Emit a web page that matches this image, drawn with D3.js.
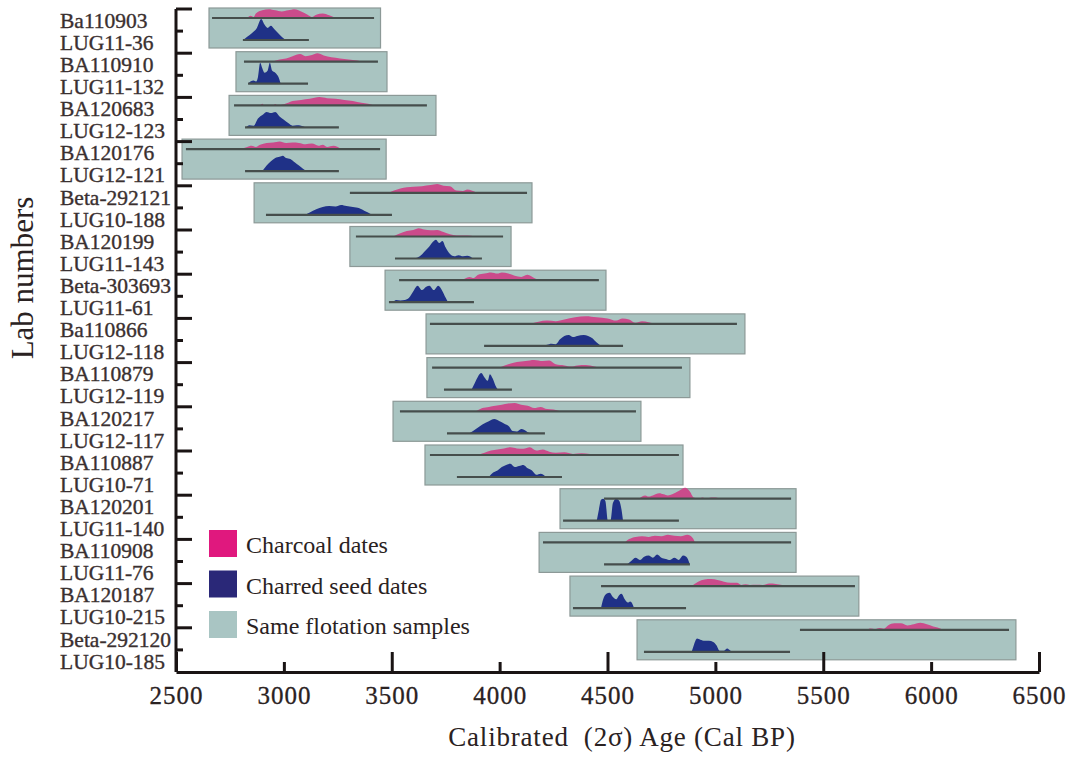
<!DOCTYPE html>
<html>
<head>
<meta charset="utf-8">
<script src="https://cdn.jsdelivr.net/npm/d3@7"></script>
<style>
  body { margin: 0; background: #fff; }
  text { font-family: "Liberation Serif", "Times New Roman", serif; }
</style>
</head>
<body>
<svg width="1072" height="758"></svg>
<script>
// lab numbers, top to bottom (charcoal date, then charred seed date of the same flotation sample)
const labNumbers = ['Ba110903', 'LUG11-36', 'BA110910', 'LUG11-132', 'BA120683', 'LUG12-123',
  'BA120176', 'LUG12-121', 'Beta-292121', 'LUG10-188', 'BA120199', 'LUG11-143',
  'Beta-303693', 'LUG11-61', 'Ba110866', 'LUG12-118', 'BA110879', 'LUG12-119',
  'BA120217', 'LUG12-117', 'BA110887', 'LUG10-71', 'BA120201', 'LUG11-140',
  'BA110908', 'LUG11-76', 'BA120187', 'LUG10-215', 'Beta-292120', 'LUG10-185'];

// extent of each flotation sample box (cal BP)
const sampleBoxes = [[2653, 3448], [2778, 3478], [2746, 3705], [2528, 3474], [2862, 4150],
  [3306, 4053], [3469, 4493], [3659, 5137], [3663, 4882], [3506, 4655],
  [3654, 4850], [4280, 5374], [4183, 5374], [4326, 5665], [4637, 6393]];

// 2 sigma ranges
const charcoalRanges = [[2667, 3418], [2815, 3436], [2769, 3663], [2546, 3446], [3306, 4127],
  [3334, 4016], [3534, 4460], [3677, 5100], [3687, 4845], [3538, 4632],
  [3677, 4831], [4484, 5351], [4201, 5351], [4470, 5647], [5392, 6361]];
const seedRanges = [[2810, 3116], [2834, 3112], [2820, 3255], [2820, 3255], [2917, 3501],
  [3515, 3918], [3487, 3881], [3928, 4572], [3742, 4057], [3756, 4210],
  [3802, 4289], [4294, 4831], [4484, 4882], [4340, 4864], [4669, 5346]];

// probability distributions [cal BP, relative probability]
const charcoalProb = [
  [[2830,0],[2845,.1],[2860,.05],[2870,.2],[2900,.35],[2930,.4],[2960,.35],[2990,.3],[3020,.35],[3050,.4],[3080,.3],[3110,.15],[3130,.05],[3150,.15],[3180,.2],[3210,.12],[3240,0]],
  [[2945,0],[2980,.1],[3010,.15],[3040,.25],[3075,.35],[3100,.25],[3130,.3],[3155,.38],[3185,.28],[3220,.2],[3260,.15],[3300,.1],[3340,.05],[3362,0]],
  [[2890,0],[2900,.08],[2910,0],[2950,0],[2960,.06],[2970,0],[3000,.05],[3040,.2],[3080,.25],[3120,.3],[3165,.38],[3200,.33],[3240,.3],[3280,.25],[3320,.2],[3360,.12],[3390,.08],[3418,0]],
  [[2800,0],[2830,.1],[2850,.15],[2870,.1],[2890,.2],[2920,.28],[2950,.3],[2980,.35],[3010,.28],[3040,.3],[3070,.28],[3100,.22],[3130,.25],[3160,.15],[3180,.2],[3200,.1],[3230,.15],[3265,0]],
  [[3487,0],[3510,.1],[3540,.2],[3570,.25],[3600,.28],[3640,.3],[3680,.35],[3710,.4],[3740,.32],[3770,.3],[3800,.1],[3830,.08],[3850,.15],[3870,.1],[3895,0]],
  [[3506,0],[3540,.15],[3570,.25],[3600,.3],[3625,.38],[3650,.32],[3680,.28],[3710,.3],[3740,.2],[3770,.1],[3800,.05],[3850,.05],[3886,0]],
  [[3780,0],[3800,.06],[3820,0],[3840,.08],[3860,.15],[3880,.1],[3900,.25],[3930,.3],[3960,.35],[3990,.3],[4010,.35],[4040,.3],[4070,.2],[4100,.15],[4130,.25],[4160,.1],[4185,0]],
  [[4140,0],[4180,.1],[4220,.15],[4260,.12],[4300,.2],[4350,.3],[4400,.35],[4450,.3],[4500,.25],[4540,.15],[4570,.25],[4600,.2],[4630,.05],[4660,.12],[4690,.08],[4720,0]],
  [[4000,0],[4040,.15],[4080,.25],[4120,.3],[4160,.35],[4200,.3],[4230,.32],[4260,.15],[4300,.1],[4330,.05],[4360,.1],[4400,.12],[4440,.05],[4460,0]],
  [[3890,0],[3920,.15],[3950,.2],[3980,.25],[4010,.3],[4040,.35],[4070,.38],[4100,.3],[4130,.25],[4160,.15],[4190,.2],[4220,.1],[4250,.08],[4280,0]],
  [[3900,0],[3930,.1],[3960,.2],[3990,.25],[4020,.3],[4050,.35],[4080,.3],[4110,.28],[4140,.35],[4170,.2],[4200,.25],[4230,.15],[4260,.1],[4300,.12],[4340,.05],[4380,.08],[4420,.05],[4447,0]],
  [[4646,0],[4660,.1],[4675,.15],[4690,.1],[4710,.15],[4740,.25],[4760,.2],[4780,.15],[4800,.2],[4830,.35],[4860,.5],[4880,.35],[4900,.05],[4920,0],[4940,.06],[4960,0],[4980,.05],[5000,.05],[5017,0]],
  [[4580,0],[4600,.15],[4630,.25],[4660,.28],[4690,.25],[4720,.3],[4750,.28],[4780,.35],[4810,.3],[4840,.28],[4870,.35],[4895,.2],[4905,0]],
  [[4890,0],[4920,.2],[4950,.3],[4980,.32],[5010,.28],[5040,.2],[5070,.15],[5100,.15],[5120,.05],[5140,.08],[5160,.05],[5190,.06],[5220,.05],[5250,.12],[5280,.1],[5310,.05],[5327,0]],
  [[5700,0],[5720,.06],[5740,.03],[5760,.08],[5780,.05],[5800,.2],[5830,.3],[5860,.3],[5890,.2],[5920,.25],[5950,.32],[5980,.25],[6010,.15],[6030,.1],[6055,0]]
];
const seedProb = [
  [[2810,0],[2830,.15],[2850,.3],[2875,.55],[2895,.95],[2910,.7],[2925,.55],[2940,.65],[2955,.5],[2975,.3],[2995,.1],[3010,0]],
  [[2834,0],[2845,.1],[2860,.15],[2872,.1],[2880,.3],[2890,.95],[2900,.7],[2910,.5],[2925,.6],[2935,.95],[2945,.6],[2960,.5],[2975,.3],[2985,0]],
  [[2824,0],[2840,.1],[2860,.08],[2880,.4],[2905,.6],[2920,.7],[2940,.65],[2960,.7],[2980,.5],[3000,.35],[3020,.2],[3040,.08],[3060,.1],[3080,.08],[3103,0]],
  [[2900,0],[2920,.25],[2940,.45],[2960,.6],[2980,.65],[2995,.7],[3010,.6],[3030,.55],[3050,.4],[3070,.25],[3090,.1],[3105,0]],
  [[3100,0],[3120,.1],[3150,.25],[3180,.35],[3210,.4],[3240,.38],[3265,.45],[3290,.4],[3320,.35],[3350,.3],[3380,.15],[3400,.05],[3410,0]],
  [[3605,0],[3630,.1],[3650,.3],[3670,.5],[3690,.75],[3705,.85],[3720,.7],[3735,.8],[3750,.5],[3770,.2],[3790,.1],[3810,.15],[3830,.1],[3850,.12],[3877,0]],
  [[3506,0],[3520,.1],[3540,.08],[3560,.1],[3580,.2],[3600,.5],[3620,.75],[3640,.55],[3660,.7],[3675,.75],[3695,.55],[3715,.75],[3735,.5],[3750,.2],[3761,0]],
  [[4200,0],[4220,.05],[4240,.1],[4260,.08],[4280,.3],[4300,.45],[4320,.5],[4340,.4],[4360,.45],[4390,.5],[4410,.45],[4430,.35],[4450,.15],[4470,0]],
  [[3870,0],[3885,.3],[3900,.6],[3915,.75],[3930,.55],[3945,.4],[3955,.7],[3968,.5],[3980,.2],[3992,0]],
  [[3860,0],[3890,.2],[3920,.4],[3950,.55],[3975,.65],[4000,.55],[4020,.45],[4045,.3],[4060,.1],[4080,.08],[4100,.2],[4115,.15],[4130,.05],[4141,0]],
  [[3950,0],[3970,.2],[3990,.3],[4010,.45],[4030,.55],[4050,.6],[4070,.45],[4090,.5],[4110,.55],[4130,.4],[4150,.3],[4170,.1],[4190,.15],[4215,0]],
  [[4450,0],[4460,.5],[4470,.95],[4480,1],[4490,.9],[4502,0],[4514,0],[4525,.8],[4540,1],[4555,.9],[4565,.5],[4572,0]],
  [[4590,0],[4610,.15],[4630,.3],[4650,.2],[4670,.35],[4690,.4],[4710,.3],[4730,.45],[4750,.3],[4770,.25],[4790,.2],[4810,.3],[4830,.2],[4850,.4],[4865,.35],[4882,0]],
  [[4470,0],[4480,.4],[4495,.65],[4510,.7],[4525,.5],[4540,.4],[4555,.6],[4565,.65],[4580,.4],[4595,.25],[4605,.3],[4615,.2],[4623,0]],
  [[4890,0],[4900,.3],[4915,.6],[4930,.55],[4950,.5],[4970,.5],[4990,.45],[5005,.3],[5020,.05],[5040,.05],[5055,.15],[5070,.05],[5085,0]]
];

const xTicks = [2500, 3000, 3500, 4000, 4500, 5000, 5500, 6000, 6500];
const legendItems = ['Charcoal dates', 'Charred seed dates', 'Same flotation samples'];

const charcoalCol = '#cb4b8b', seedCol = '#1f3187', boxCol = '#a9c4c1', lineCol = '#464e4c';

var svg = d3.select('svg');

var x = d3.scaleLinear().domain([2500, 6500]).range([176, 1039]);
var y = d3.scaleBand().domain(labNumbers).range([9, 672]);
// the sample boxes sit on a slightly tighter spacing than the labels
var pairIds = labNumbers.filter((d, i) => i % 2 === 0);
var yBox = d3.scaleBand().domain(pairIds).range([8, 663.5]);
var h = d3.scaleLinear().domain([0, 1]).range([0, 22]);

// one group per flotation sample
var pairs = sampleBoxes.map(function(b, i){
    return {box: b, cr: charcoalRanges[i], sr: seedRanges[i], cp: charcoalProb[i], sp: seedProb[i],
            top: yBox(pairIds[i])};
});

var g = svg.append('g');

g.selectAll('.sample')
    .data(pairs)
    .enter().append('rect')
    .attr('class', 'sample')
    .attr('x', d => x(d.box[0]))
    .attr('width', d => x(d.box[1]) - x(d.box[0]))
    .attr('y', d => d.top)
    .attr('height', 40)
    .attr('fill', boxCol)
    .attr('stroke', '#8c9997')
    .attr('stroke-width', 1.2);

function areaAt(base){
    return d3.area().x(d => x(d[0])).y0(base).y1(d => base - h(d[1])).curve(d3.curveMonotoneX);
}

pairs.forEach(function(p){
    var cBase = p.top + 10, sBase = p.top + 32;
    g.append('path').attr('d', areaAt(cBase)(p.cp)).attr('fill', charcoalCol);
    g.append('path').attr('d', areaAt(sBase)(p.sp)).attr('fill', seedCol);
    g.append('line')
        .attr('x1', x(p.cr[0])).attr('x2', x(p.cr[1]))
        .attr('y1', cBase).attr('y2', cBase)
        .attr('stroke', lineCol).attr('stroke-width', 2.2);
    g.append('line')
        .attr('x1', x(p.sr[0])).attr('x2', x(p.sr[1]))
        .attr('y1', sBase).attr('y2', sBase)
        .attr('stroke', lineCol).attr('stroke-width', 2.2);
});

// x axis, ticks pointing up
var xAxis = svg.append('g')
    .attr('transform', 'translate(0,672)')
    .call(d3.axisBottom(x).tickValues(xTicks).tickFormat(d3.format('d'))
          .tickSizeInner(-20).tickSizeOuter(0).tickPadding(14));
xAxis.select('.domain').attr('stroke', '#1a1414').attr('stroke-width', 3);
xAxis.selectAll('.tick line').attr('stroke', '#1a1414').attr('stroke-width', 3)
    .attr('y2', d => (d % 1000 === 0) ? -10 : -20);
xAxis.selectAll('.tick text')
    .attr('font-size', 25).attr('font-family', '"Liberation Serif", serif')
    .attr('fill', '#2a2222').attr('letter-spacing', 1)
    .attr('stroke', '#2a2222').attr('stroke-width', 0.3);

// y axis
var yAxis = svg.append('g').attr('transform', 'translate(176,0)');
yAxis.append('line').attr('y1', 9).attr('y2', 672).attr('stroke', '#1a1414').attr('stroke-width', 3);
yAxis.selectAll('.ytick')
    .data(labNumbers)
    .enter().append('line')
    .attr('y1', d => y(d)).attr('y2', d => y(d))
    .attr('x1', 0)
    .attr('x2', (d, i) => i % 2 === 0 ? 16 : 7)
    .attr('stroke', '#1a1414').attr('stroke-width', 3);

svg.append('g').selectAll('text')
    .data(labNumbers)
    .enter().append('text')
    .attr('x', 60)
    .attr('y', d => y(d) + y.bandwidth() / 2)
    .attr('dy', '0.36em')
    .attr('font-size', 21.5)
    .attr('fill', '#3a3030')
    .attr('stroke', '#3a3030').attr('stroke-width', 0.35)
    .text(d => d);

// axis titles
svg.append('text')
    .attr('transform', 'translate(33,278) rotate(-90)')
    .attr('text-anchor', 'middle')
    .attr('font-size', 31)
    .attr('fill', '#2a2222')
    .text('Lab numbers');

svg.append('text')
    .attr('x', 622).attr('y', 746)
    .attr('text-anchor', 'middle')
    .attr('font-size', 27)
    .attr('letter-spacing', 0.8)
    .attr('fill', '#2a2222')
    .style('white-space', 'pre')
    .text('Calibrated  (2\u03c3) Age (Cal BP)');

// legend
var legColors = ['#e0187e', '#2a2878', '#a9c5c3'];
var leg = svg.append('g').selectAll('.leg')
    .data(legendItems)
    .enter().append('g')
    .attr('class', 'leg')
    .attr('transform', (d, i) => 'translate(209,' + (530 + i * 40.5) + ')');
leg.append('rect').attr('width', 28).attr('height', 27).attr('fill', (d, i) => legColors[i]);
leg.append('text').attr('x', 37).attr('y', 23).attr('font-size', 24).attr('fill', '#2a2222').text(d => d);
</script>
</body>
</html>
